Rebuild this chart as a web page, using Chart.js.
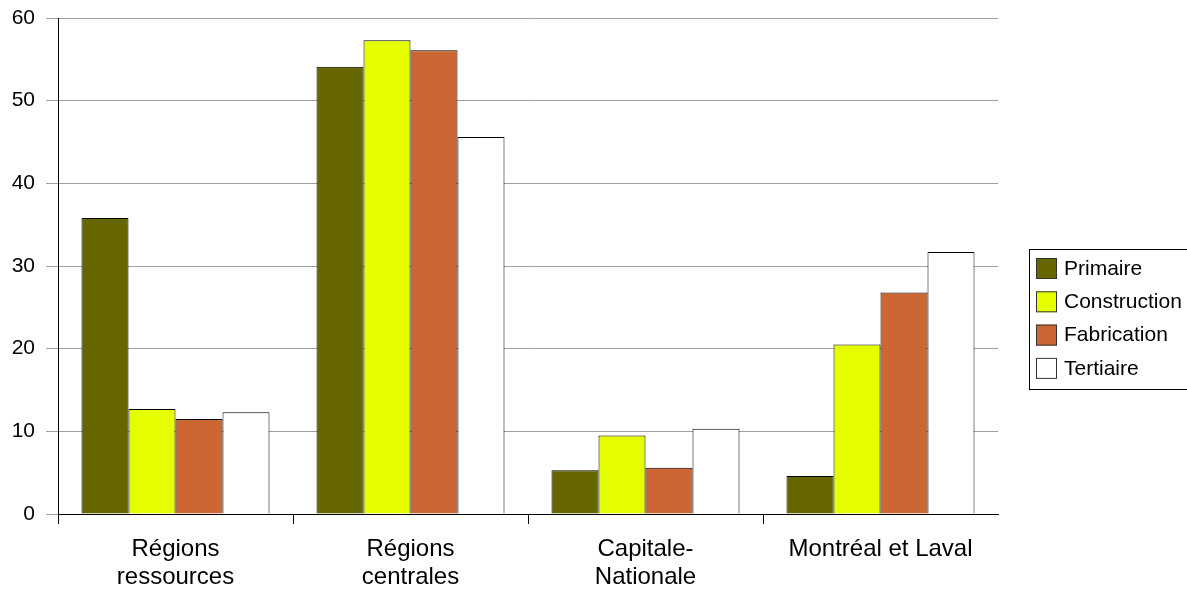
<!DOCTYPE html>
<html>
<head>
<meta charset="utf-8">
<script src="https://cdn.jsdelivr.net/npm/chart.js@4"></script>
<style>
    html, body { margin: 0; padding: 0; background: #ffffff; }
    #wrap { width: 1187px; height: 592px; position: relative; }
</style>
</head>
<body>
<div id="wrap"><canvas id="regionChart"></canvas></div>
<script>

const categories = [
    ["Régions", "ressources"],
    ["Régions", "centrales"],
    ["Capitale-", "Nationale"],
    "Montréal et Laval"
];

const seriesNames = ["Primaire", "Construction", "Fabrication", "Tertiaire"];

const primaire = [35.8, 54.1, 5.3, 4.6];
const construction = [12.7, 57.3, 9.5, 20.5];
const fabrication = [11.5, 56.1, 5.6, 26.8];
const tertiaire = [12.3, 45.6, 10.3, 31.7];

const yTicks = [0, 10, 20, 30, 40, 50, 60];

const seriesColors = ["#666600", "#e6ff00", "#cc6633", "#ffffff"];

const FONT = "'Liberation Sans', Arial, sans-serif";

/*
 * Framed legend on the right, like the original
 */
const boxedLegend = {
    id: "boxedLegend",
    afterDraw(chart) {
        const ctx = chart.ctx;
        const area = chart.chartArea;
        const left = area.right + 31;
        const top = 249;
        const rowH = 33.3;

        ctx.save();
        ctx.strokeStyle = "#000000";
        ctx.lineWidth = 1;
        ctx.strokeRect(left + 0.5, top + 0.5, 170, 140);

        ctx.font = "21px " + FONT;
        ctx.textBaseline = "middle";

        chart.data.datasets.forEach((ds, i) => {
            const y = top + 9 + i * rowH;
            ctx.fillStyle = ds.backgroundColor;
            ctx.fillRect(left + 7, y, 21, 21);
            ctx.strokeStyle = "#333333";
            ctx.strokeRect(left + 7.5, y + 0.5, 20, 20);
            ctx.fillStyle = "#000000";
            ctx.fillText(ds.label, left + 35, y + 11);
        });
        ctx.restore();
    }
};

const ctx = document.getElementById("regionChart");

new Chart(ctx, {

    type: "bar",

    data: {

        labels: categories,

        datasets: [
            { label: seriesNames[0], data: primaire, backgroundColor: seriesColors[0] },
            { label: seriesNames[1], data: construction, backgroundColor: seriesColors[1] },
            { label: seriesNames[2], data: fabrication, backgroundColor: seriesColors[2] },
            { label: seriesNames[3], data: tertiaire, backgroundColor: seriesColors[3] }
        ].map(ds => Object.assign(ds, {
            borderColor: "#000000",
            borderWidth: 1,
            borderSkipped: "bottom",
            categoryPercentage: 0.8,
            barPercentage: 1.0
        }))

    },

    options: {

        responsive: true,
        maintainAspectRatio: false,
        devicePixelRatio: 1,
        animation: false,

        layout: {
            padding: { top: 18, right: 189, bottom: 0, left: 0 }
        },

        plugins: {
            legend: { display: false },
            tooltip: { enabled: false }
        },

        scales: {

            x: {
                offset: true,
                grid: {
                    offset: true,
                    drawOnChartArea: false,
                    drawTicks: true,
                    tickLength: 10,
                    color: c => c.type === "tick" ? "#000000" : "rgba(0,0,0,0)"
                },
                border: { color: "#000000", width: 1 },
                ticks: {
                    color: "#000000",
                    padding: 11,
                    maxRotation: 0,
                    autoSkip: false,
                    font: { family: FONT, size: 24, lineHeight: 1.17 }
                },
                afterFit(scale) {
                    scale.height = 78;
                }
            },

            y: {
                min: 0,
                max: 60,
                afterBuildTicks(scale) {
                    scale.ticks = yTicks.map(v => ({ value: v }));
                },
                grid: {
                    color: "#a0a0a0",
                    tickLength: 12,
                    drawTicks: true
                },
                border: { color: "#000000", width: 1 },
                ticks: {
                    color: "#000000",
                    padding: 11,
                    font: { family: FONT, size: 21 }
                },
                afterFit(scale) {
                    scale.width = 58;
                    scale.paddingTop = 0;
                    scale.paddingBottom = 0;
                }
            }

        }

    },

    plugins: [boxedLegend]

});
</script>
</body>
</html>
